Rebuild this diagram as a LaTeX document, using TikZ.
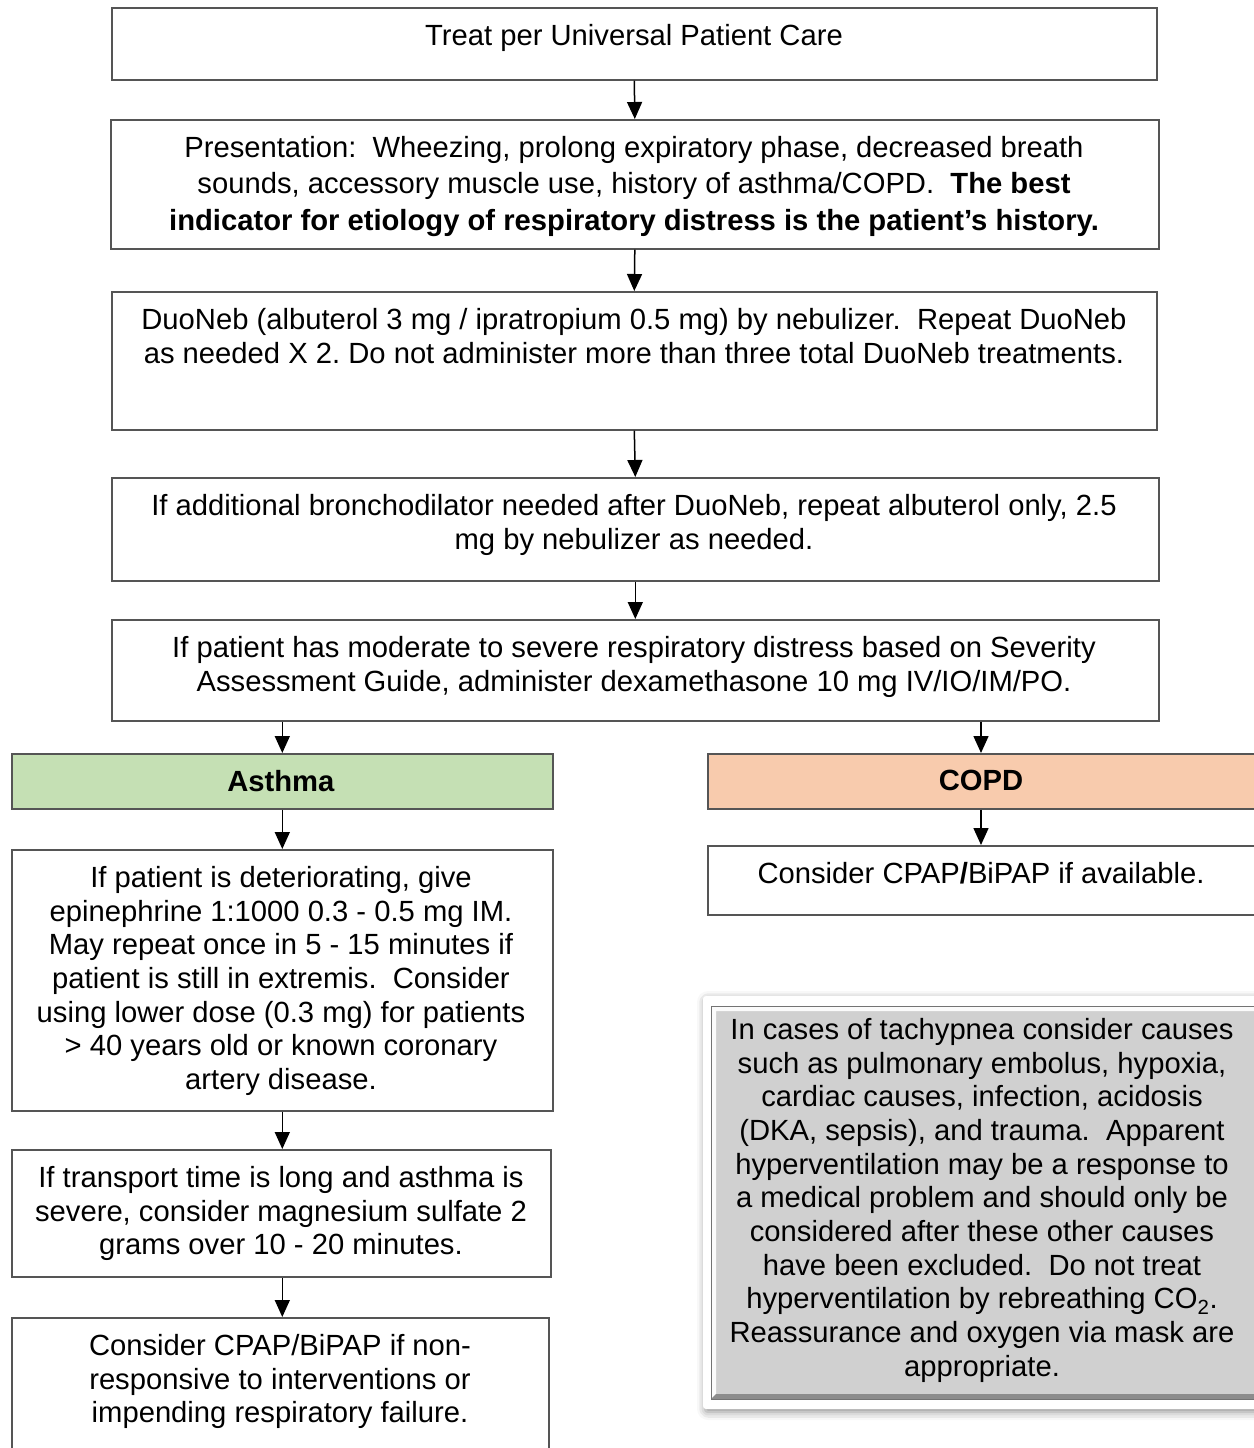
\documentclass[tikz,border=0pt]{standalone}
\usepackage{fontspec}
\setmainfont{Liberation Sans}
\usetikzlibrary{arrows.meta,shadows.blur}
\frenchspacing

\definecolor{edge}{HTML}{555555}
\definecolor{asthmafill}{HTML}{C5E0B4}
\definecolor{copdfill}{HTML}{F8CBAD}
\definecolor{notefill}{HTML}{D0D0D0}

\tikzset{
  flowbox/.style={draw=edge, line width=1.6pt, rectangle, inner sep=0pt, anchor=north west},
  flowtext/.style={font=\fontsize{29.2}{33.7}\selectfont, align=center, inner sep=0pt, anchor=north},
  flowarrow/.style={draw=black, line width=1.5pt, -{Triangle[width=15pt,length=17pt]}},
}

\begin{document}
\begin{tikzpicture}[x=1pt, y=-1pt]
\useasboundingbox (0,0) rectangle (1253,1448);

% main column boxes
\node[flowbox, minimum width=1045pt, minimum height=72pt] (b1) at (111,7) {};
\node[flowtext] (t1) at (634,24) {Treat per Universal Patient Care};

\node[flowbox, minimum width=1048pt, minimum height=129pt] (b2) at (110,119) {};
\node[flowtext, font=\fontsize{29.2}{36.5}\selectfont] (t2) at (634,136) {Presentation:\ \ Wheezing, prolong expiratory phase, decreased breath\\
sounds, accessory muscle use, history of asthma/COPD.\ \ \textbf{The best}\\
\textbf{indicator for etiology of respiratory distress is the patient’s history.}};

\node[flowbox, minimum width=1045pt, minimum height=138pt] (b3) at (111,291) {};
\node[flowtext] (t3) at (634,308) {DuoNeb (albuterol 3 mg / ipratropium 0.5 mg) by nebulizer.\ \ Repeat DuoNeb\\
as needed X 2. Do not administer more than three total DuoNeb treatments.};

\node[flowbox, minimum width=1047pt, minimum height=103pt] (b4) at (111,477) {};
\node[flowtext] (t4) at (634,494) {If additional bronchodilator needed after DuoNeb, repeat albuterol only, 2.5\\
mg by nebulizer as needed.};

\node[flowbox, minimum width=1047pt, minimum height=101pt] (b5) at (111,619) {};
\node[flowtext] (t5) at (634,636) {If patient has moderate to severe respiratory distress based on Severity\\
Assessment Guide, administer dexamethasone 10 mg IV/IO/IM/PO.};

% asthma branch
\node[flowbox, fill=asthmafill, minimum width=541pt, minimum height=55pt] (as) at (11,753) {};
\node[flowtext] (ast) at (281,770) {\textbf{Asthma}};

\node[flowbox, minimum width=541pt, minimum height=261pt] (a1) at (11,849) {};
\node[flowtext] (a1t) at (281,866) {If patient is deteriorating, give\\
epinephrine 1:1000 0.3 - 0.5 mg IM.\\
May repeat once in 5 - 15 minutes if\\
patient is still in extremis.\ \ Consider\\
using lower dose (0.3 mg) for patients\\
> 40 years old or known coronary\\
artery disease.};

\node[flowbox, minimum width=539pt, minimum height=127pt] (a2) at (11,1149) {};
\node[flowtext] (a2t) at (281,1166) {If transport time is long and asthma is\\
severe, consider magnesium sulfate 2\\
grams over 10 - 20 minutes.};

\node[flowbox, minimum width=537pt, minimum height=160pt] (a3) at (11,1317) {};
\node[flowtext] (a3t) at (280,1334) {Consider CPAP/BiPAP if non-\\
responsive to interventions or\\
impending respiratory failure.};

% COPD branch (runs past the right edge of the page)
\node[flowbox, fill=copdfill, minimum width=563pt, minimum height=55pt] (cp) at (707,753) {};
\node[flowtext] (cpt) at (981,770) {\textbf{COPD}};

\node[flowbox, minimum width=563pt, minimum height=69pt] (c1) at (707,845) {};
\node[flowtext] (c1t) at (981,862) {Consider CPAP\textbf{/}BiPAP if available.};

% note panel with white frame and soft shadow
\path[fill=white, rounded corners=3pt, blur shadow={shadow xshift=2pt, shadow yshift=-3pt, shadow blur radius=8pt, shadow opacity=45}]
  (703,996) rectangle (1275,1409);
\fill[notefill] (711,1006) rectangle (1275,1399);
% bevel: light top/left, dark bottom/right
\fill[white!92!notefill] (711,1006) -- (1275,1006) -- (1275,1011) -- (716,1011) -- (716,1394) -- (711,1399) -- cycle;
\fill[black!45] (711,1399) -- (1275,1399) -- (1275,1394) -- (716,1394) -- cycle;
\draw[black!55, line width=1pt] (711,1006) rectangle (1275,1399);
\node[flowtext] (nt) at (982,1018) {In cases of tachypnea consider causes\\
such as pulmonary embolus, hypoxia,\\
cardiac causes, infection, acidosis\\
(DKA, sepsis), and trauma.\ \ Apparent\\
hyperventilation may be a response to\\
a medical problem and should only be\\
considered after these other causes\\
have been excluded.\ \ Do not treat\\
hyperventilation by rebreathing CO\textsubscript{2}.\\
Reassurance and oxygen via mask are\\
appropriate.};

% connectors
\draw[flowarrow] (b1.south) -- (b2.north);
\draw[flowarrow] (b2.south) -- (b3.north);
\draw[flowarrow] (b3.south) -- (b4.north);
\draw[flowarrow] (b4.south) -- (b5.north);
\draw[flowarrow] (b5.south -| as.north) -- (as.north);
\draw[flowarrow] (b5.south -| cpt.north) -- (cp.north -| cpt.north);
\draw[flowarrow] (as.south) -- (a1.north);
\draw[flowarrow] (a1.south) -- (a2.north -| a1.south);
\draw[flowarrow] (a2.south -| a1.south) -- (a3.north -| a1.south);
\draw[flowarrow] (cp.south -| cpt.north) -- (c1.north -| cpt.north);
\end{tikzpicture}
\end{document}
